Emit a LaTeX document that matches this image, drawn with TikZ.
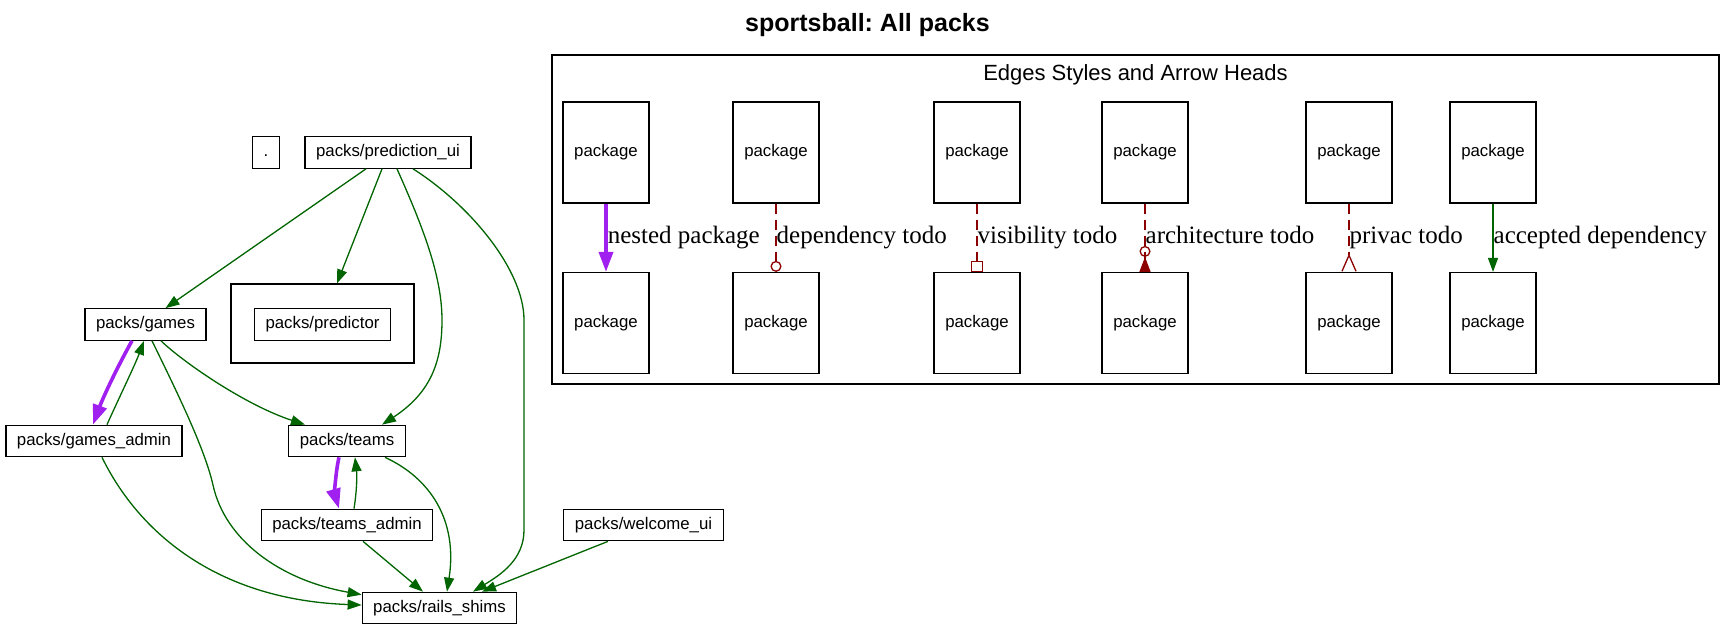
\documentclass[tikz,border=0pt]{standalone}
\usepackage{fontspec}
\setmainfont{Liberation Sans}
\newfontfamily\sbserif{Liberation Serif}
\usetikzlibrary{arrows.meta}
\definecolor{sbgreen}{HTML}{006400}
\definecolor{sbpurple}{HTML}{A020F0}
\definecolor{sbred}{HTML}{8B0000}
\frenchspacing

\begin{document}
\begin{tikzpicture}[
  x=1pt, y=-1pt,
  pack/.style={draw, line width=1.2pt, font=\fontsize{16.8}{20}\selectfont,
               inner xsep=11pt, inner ysep=0pt, minimum height=31.5pt,
               text height=12pt, text depth=3.5pt},
  legendpack/.style={pack, minimum width=86pt, minimum height=101pt},
  cluster/.style={draw, line width=1.2pt, inner sep=0pt},
  elab/.style={anchor=west, inner sep=0pt, text height=17pt, text depth=5.5pt,
               font=\sbserif\fontsize{25}{30}\selectfont},
  dep/.style={draw=sbgreen, line width=1.3pt, -{Triangle[length=14pt,width=10pt]}},
  nest/.style={draw=sbpurple, line width=3.6pt, -{Triangle[length=20pt,width=14pt]}},
  todo/.style={draw=sbred, line width=1.3pt, dash pattern=on 10pt off 6pt},
  tododep/.style={todo, -{Circle[open,length=11pt]}},
  todovis/.style={todo, -{Square[open,length=11pt,width=12pt]}},
  todoarch/.style={todo, -{Circle[open,length=11pt] Triangle[reversed,length=15pt,width=11pt]}},
  todopriv/.style={todo, -{Straight Barb[reversed,length=16pt,width=14pt]}},
]
  \useasboundingbox (0,0) rectangle (1735,629);
  \node[font=\bfseries\fontsize{25}{30}\selectfont, anchor=base] (title) at (867.5,31) {sportsball: All packs};

  % ---- packs ------------------------------------------------------------------
  \node[pack] (dot) at (266,152.5) {.};
  \node[pack] (predui) at (388,152.5) {packs/prediction\_ui};
  \node[pack] (games) at (145.5,324.5) {packs/games};
  \node[cluster, minimum width=183pt, minimum height=79pt] (predclu) at (322.5,323.5) {};
  \node[pack] (predictor) at (322.5,324.5) {packs/predictor};
  \node[pack] (gadmin) at (94,441) {packs/games\_admin};
  \node[pack] (teams) at (347,441) {packs/teams};
  \node[pack] (tadmin) at (347,525) {packs/teams\_admin};
  \node[pack] (welcome) at (643.5,525) {packs/welcome\_ui};
  \node[pack] (rails) at (439.5,608) {packs/rails\_shims};

  % ---- dependencies -------------------------------------------------------------
  \draw[dep] ([xshift=-22pt]predui.south) -- ([xshift=20pt]games.north);
  \draw[dep] ([xshift=-6pt]predui.south) -- ([xshift=14.5pt]predclu.north);
  \draw[dep] ([xshift=9pt]predui.south) .. controls (422,225) and (442,275) .. (442,320)
    .. controls (442,360) and (432,392) .. ([xshift=35pt]teams.north);
  \draw[dep] ([xshift=25pt]predui.south) .. controls (470,205) and (524,270) .. (524,320)
    -- (524,530) .. controls (524,560) and (500,575) .. ([xshift=33.5pt]rails.north);
  \draw[nest] ([xshift=-13.5pt]games.south) .. controls (120,362) and (104,395) .. ([xshift=-1pt]gadmin.north);
  \draw[dep] ([xshift=13pt]gadmin.north) .. controls (118,400) and (135,365) .. ([xshift=-1.5pt]games.south);
  \draw[dep] ([xshift=15.5pt]games.south) .. controls (183,362) and (245,405) .. ([xshift=-42pt]teams.north);
  \draw[dep] ([xshift=6.5pt]games.south) .. controls (180,398) and (205,450) .. (213,485)
    .. controls (225,540) and (280,580) .. ([yshift=-3pt]rails.north west);
  \draw[dep] ([xshift=8pt]gadmin.south) .. controls (140,535) and (220,600) .. ([yshift=3pt]rails.west);
  \draw[nest] ([xshift=-8pt]teams.south) .. controls (335,475) and (335,495) .. ([xshift=-8pt]tadmin.north);
  \draw[dep] ([xshift=7pt]tadmin.north) .. controls (357,490) and (357,475) .. ([xshift=8pt]teams.south);
  \draw[dep] ([xshift=38pt]teams.south) .. controls (430,478) and (458,520) .. ([xshift=7.5pt]rails.north);
  \draw[dep] ([xshift=16pt]tadmin.south) -- ([xshift=-16.5pt]rails.north);
  \draw[dep] ([xshift=-35.5pt]welcome.south) -- ([xshift=42.5pt]rails.north);

  % ---- legend -------------------------------------------------------------------
  \node[cluster, minimum width=1167pt, minimum height=329pt] (legend) at (1135.5,219.5) {};
  \node[font=\fontsize{22}{26}\selectfont, anchor=base] (legendtitle) at (1135.5,80) {Edges Styles and Arrow Heads};
  \foreach \n/\x/\lbl/\sty in {a/606/nested package/nest, b/776/dependency todo/tododep,
                               c/977/visibility todo/todovis, d/1145/architecture todo/todoarch,
                               e/1349/privac todo/todopriv, f/1493/accepted dependency/dep} {
    \node[legendpack] (top\n) at (\x,152.5) {package};
    \node[legendpack] (bot\n) at (\x,323) {package};
    \draw[\sty] (top\n) -- (bot\n) node[elab, midway] {\lbl};
  }
\end{tikzpicture}
\end{document}
